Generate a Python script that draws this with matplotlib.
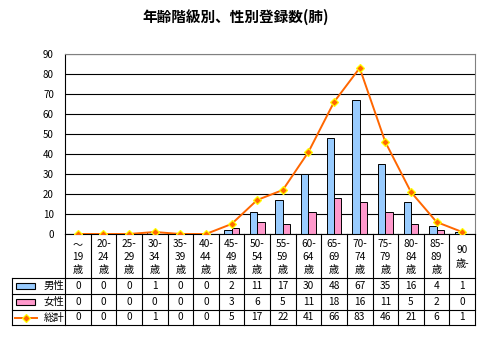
import numpy as np
import matplotlib.pyplot as plt
from matplotlib.patches import Rectangle
from matplotlib.lines import Line2D

plt.rcParams['font.family'] = ['Noto Sans CJK JP', 'DejaVu Sans']

ages = ['～\n19\n歳', '20-\n24\n歳', '25-\n29\n歳', '30-\n34\n歳', '35-\n39\n歳',
        '40-\n44\n歳', '45-\n49\n歳', '50-\n54\n歳', '55-\n59\n歳', '60-\n64\n歳',
        '65-\n69\n歳', '70-\n74\n歳', '75-\n79\n歳', '80-\n84\n歳', '85-\n89\n歳',
        '90\n歳-']
male = [0, 0, 0, 1, 0, 0, 2, 11, 17, 30, 48, 67, 35, 16, 4, 1]
female = [0, 0, 0, 0, 0, 0, 3, 6, 5, 11, 18, 16, 11, 5, 2, 0]
total = [0, 0, 0, 1, 0, 0, 5, 17, 22, 41, 66, 83, 46, 21, 6, 1]
series_names = ['男性', '女性', '総計']

blue = '#99CCFF'
pink = '#FF99CC'
orange = '#FF6600'
yellow = '#FFFF00'

W, H = 480, 338
fig = plt.figure(figsize=(W / 100, H / 100), dpi=100)

# plot area in pixels
px0, px1, py0, py1 = 65, 475, 54, 234
ax = fig.add_axes([px0 / W, 1 - py1 / H, (px1 - px0) / W, (py1 - py0) / H])

n = len(ages)
x = np.arange(n)
bw = 0.29
ax.bar(x - bw / 2, male, bw, color=blue, edgecolor='black', linewidth=0.7, zorder=2)
ax.bar(x + bw / 2, female, bw, color=pink, edgecolor='black', linewidth=0.7, zorder=2)
ax.plot(x, total, color=orange, linewidth=1.4, marker='D', markersize=4,
        markerfacecolor=orange, markeredgecolor=yellow, markeredgewidth=0.9, zorder=3)

ax.set_xlim(-0.5, n - 0.5)
ax.set_ylim(0, 90)
ax.set_yticks(range(0, 91, 10))
ax.set_xticks([])
ax.tick_params(axis='y', length=0, labelsize=7, pad=8)
ax.yaxis.grid(True, color='black', linewidth=0.8)
ax.set_axisbelow(True)
for s in ['top', 'right']:
    ax.spines[s].set_color('#808080')
ax.spines['left'].set_color('black')
ax.spines['bottom'].set_color('black')

fig.text(236 / W, 1 - 17 / H, '年齢階級別、性別登録数(肺)', ha='center', va='center',
         fontsize=10.5, fontweight='bold')

# data table under the plot, drawn in pixel space
tab = fig.add_axes([0, 0, 1, 1])
tab.set_xlim(0, W)
tab.set_ylim(H, 0)
tab.axis('off')
tab.patch.set_alpha(0)

cw = (px1 - px0) / n
hdr_bot = 278
row_edges = [hdr_bot, 294, 310, 325]
lab_x0 = 12
lw = 0.8

for i in range(n + 1):
    xx = px0 + i * cw
    tab.add_line(Line2D([xx, xx], [py1, row_edges[-1]], color='black', linewidth=lw))
tab.add_line(Line2D([lab_x0, lab_x0], [hdr_bot, row_edges[-1]], color='black', linewidth=lw))
for yy in row_edges:
    tab.add_line(Line2D([lab_x0, px1], [yy, yy], color='black', linewidth=lw))

for i, lab in enumerate(ages):
    cx = px0 + (i + 0.5) * cw
    tab.text(cx, (py1 + hdr_bot) / 2 + 1, lab, ha='center', va='center',
             fontsize=7.3, linespacing=1.4)

for r, vals in enumerate([male, female, total]):
    cy = (row_edges[r] + row_edges[r + 1]) / 2
    for i, v in enumerate(vals):
        tab.text(px0 + (i + 0.5) * cw, cy, str(v), ha='center', va='center', fontsize=7.3)
    tab.text(44, cy, series_names[r], ha='left', va='center', fontsize=7.5)

# legend keys in the row labels
for r, c in enumerate([blue, pink]):
    cy = (row_edges[r] + row_edges[r + 1]) / 2
    tab.add_patch(Rectangle((16, cy - 3), 19, 6, facecolor=c, edgecolor='black', linewidth=0.8))
cy = (row_edges[2] + row_edges[3]) / 2
tab.add_line(Line2D([15, 37], [cy, cy], color=orange, linewidth=1.4))
tab.plot([26], [cy], marker='D', markersize=4, markerfacecolor=orange,
         markeredgecolor=yellow, markeredgewidth=0.9)

fig.savefig('out.png', dpi=100)
